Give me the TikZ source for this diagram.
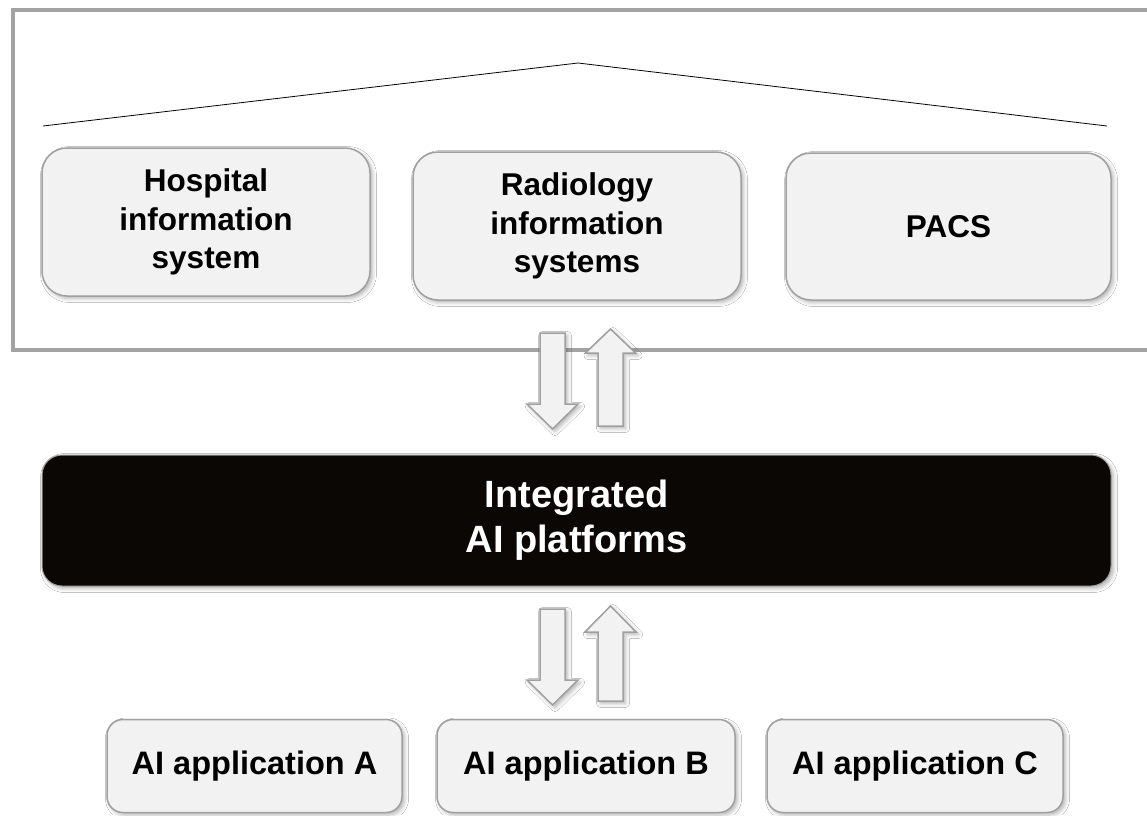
\documentclass[tikz,border=0pt]{standalone}
\usepackage{fontspec}
\setmainfont{Liberation Sans}
\usetikzlibrary{shadows.blur}
\definecolor{boxfill}{HTML}{F2F2F2}
\definecolor{boxline}{HTML}{A0A0A0}
\definecolor{framegray}{HTML}{A3A3A3}
\definecolor{platblack}{HTML}{0A0705}
\begin{document}
\begin{tikzpicture}[x=1pt,y=-1pt,
  softshadow/.style={blur shadow={shadow xshift=2.5pt, shadow yshift=-2.5pt, shadow blur radius=4pt, shadow opacity=30}},
  sysbox/.style={draw=boxline, line width=1.5pt, fill=boxfill, rounded corners=25pt,
    minimum width=328pt, minimum height=148pt, align=center, inner sep=0pt, outer sep=0pt,
    font=\fontsize{31.5}{38.5}\selectfont\bfseries, softshadow},
  appbox/.style={draw=boxline, line width=1.5pt, fill=boxfill, rounded corners=16pt,
    minimum height=93pt, inner sep=0pt, outer sep=0pt,
    font=\fontsize{32.5}{38}\selectfont\bfseries, softshadow},
  platbox/.style={draw=boxline, line width=1pt, fill=platblack, rounded corners=20pt,
    minimum width=1069pt, minimum height=131pt, inner sep=0pt, outer sep=0pt, align=center,
    text=white, font=\fontsize{38}{45}\selectfont\bfseries, softshadow},
  blockarrow/.style={draw=boxline, line width=1.5pt, fill=boxfill, line join=miter, softshadow},
  framestyle/.style={draw=framegray, line width=4pt},
  roofstyle/.style={draw=black, line width=0.8pt}
]
\useasboundingbox (0,0) rectangle (1147,815);
\clip (0,0) rectangle (1147,815);
\fill[white] (0,0) rectangle (1147,815);

% outer frame
\coordinate (ftr) at (1160,10);
\coordinate (ftl) at (13,10);
\coordinate (fbl) at (13,350);
\coordinate (fbr) at (1160,350);
\draw[framestyle] (ftr) -- (ftl) -- (fbl) -- (fbr);

% roof
\coordinate (rl) at (43,126);
\coordinate (rt) at (578,63);
\coordinate (rr) at (1107,126);
\draw[roofstyle] (rl) -- (rt) -- (rr);

% top systems
\node[sysbox] (his) at (206,222) {Hospital\\information\\system};
\node[sysbox] (ris) at (577,226) {Radiology\\information\\systems};
\node[sysbox, minimum width=325pt, minimum height=147pt] (pacs) at (948.5,226.5) {PACS};

% upper arrows
\draw[blockarrow] (540,333) -- (565,333) -- (565,404) -- (578,404) -- (552.5,429) -- (527,404) -- (540,404) -- cycle;
\draw[blockarrow] (598,426) -- (623,426) -- (623,353) -- (635.5,353) -- (610.5,329) -- (585.5,353) -- (598,353) -- cycle;

% platform
\node[platbox] (plat) at (576.5,520.5) {Integrated\\AI platforms};

% lower arrows
\draw[blockarrow] (540,609) -- (565,609) -- (565,680) -- (578,680) -- (552.5,705) -- (527,680) -- (540,680) -- cycle;
\draw[blockarrow] (598,701) -- (623,701) -- (623,632) -- (636,632) -- (610.5,606) -- (585,632) -- (598,632) -- cycle;

% applications
\node[appbox, minimum width=295pt] (appa) at (254.5,766) {AI application A};
\node[appbox, minimum width=298pt] (appb) at (586,766) {AI application B};
\node[appbox, minimum width=296pt] (appc) at (915,766) {AI application C};
\end{tikzpicture}
\end{document}
